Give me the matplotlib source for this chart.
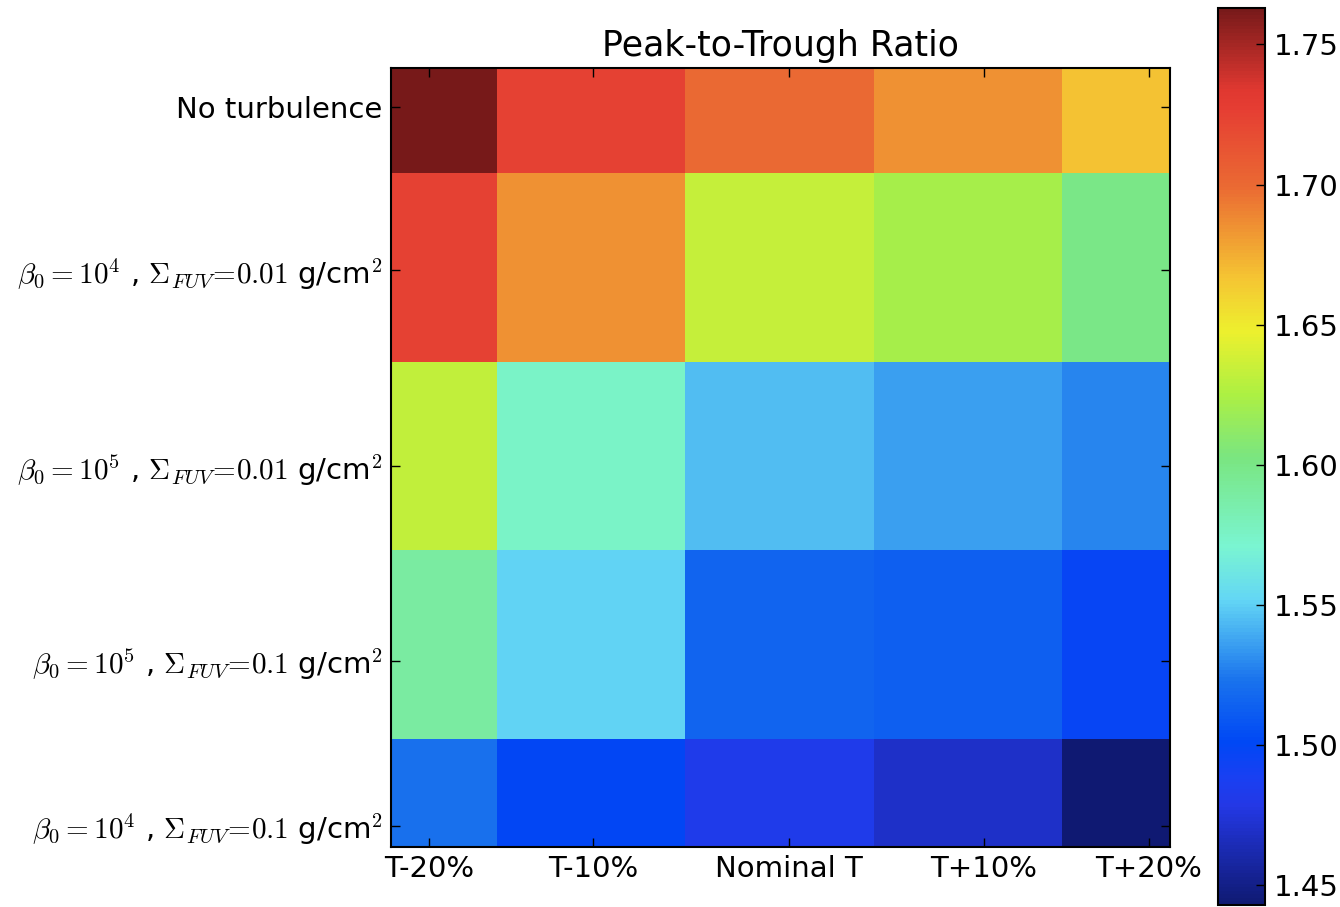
import numpy as np
import matplotlib
matplotlib.use("Agg")
import matplotlib.pyplot as plt
from matplotlib.colors import LinearSegmentedColormap

plt.rcParams['mathtext.fontset'] = 'cm'
plt.rcParams['font.family'] = 'DejaVu Sans'

# temperature variants (columns) and turbulence setups (rows)
temp_labels = ['T-20%', 'T-10%', 'Nominal T', 'T+10%', 'T+20%']
model_labels = ['No turbulence',
                r'$\beta_0 =10^4$ , $\Sigma_{FUV}\!=\!0.01$ g/cm$^2$',
                r'$\beta_0 =10^5$ , $\Sigma_{FUV}\!=\!0.01$ g/cm$^2$',
                r'$\beta_0 =10^5$ , $\Sigma_{FUV}\!=\!0.1$ g/cm$^2$',
                r'$\beta_0 =10^4$ , $\Sigma_{FUV}\!=\!0.1$ g/cm$^2$']

# peak-to-trough ratio for each model / temperature
no_turb = [1.763, 1.725, 1.700, 1.685, 1.667]
b4_s001 = [1.725, 1.685, 1.634, 1.622, 1.600]
b5_s001 = [1.632, 1.575, 1.545, 1.536, 1.529]
b5_s01 = [1.590, 1.551, 1.516, 1.514, 1.497]
b4_s01 = [1.522, 1.500, 1.482, 1.470, 1.443]

# tick locations used on both axes
tick_pos = [0.143, 1.011, 2.050, 3.084, 3.958]

ratio = np.array([no_turb, b4_s001, b5_s001, b5_s01, b4_s01])

# a slightly muted jet
soft_jet = LinearSegmentedColormap.from_list('soft_jet', [
    (0.00, (0.06, 0.10, 0.45)),
    (0.11, (0.14, 0.22, 0.90)),
    (0.14, (0.10, 0.25, 0.95)),
    (0.18, (0.00, 0.28, 0.96)),
    (0.25, (0.10, 0.45, 0.93)),
    (0.34, (0.39, 0.84, 0.96)),
    (0.40, (0.48, 0.96, 0.82)),
    (0.50, (0.48, 0.90, 0.50)),
    (0.57, (0.68, 0.94, 0.26)),
    (0.64, (0.93, 0.94, 0.18)),
    (0.70, (0.96, 0.77, 0.20)),
    (0.80, (0.92, 0.42, 0.20)),
    (0.89, (0.90, 0.24, 0.20)),
    (0.91, (0.88, 0.22, 0.19)),
    (1.00, (0.47, 0.10, 0.10)),
])

fig = plt.figure(figsize=(13.4, 9.07), dpi=100)
ax = fig.add_axes([391 / 1340, 60.3 / 907, 779 / 1340, 778.4 / 907])
im = ax.imshow(ratio, cmap=soft_jet, interpolation='nearest', aspect='auto')
ax.set_xlim(-0.06, 4.07)
ax.set_ylim(4.07, -0.06)

ax.set_xticks(tick_pos)
ax.set_xticklabels(temp_labels)
ax.set_yticks(tick_pos)
ax.set_yticklabels(model_labels)
ax.tick_params(direction='in', length=6.5, width=1, labelsize=21, pad=6,
               top=True, right=True)
for sp in ax.spines.values():
    sp.set_linewidth(1.5)
ax.set_title('Peak-to-Trough Ratio', fontsize=25, pad=9)

cax = fig.add_axes([1218 / 1340, 2 / 907, 47 / 1340, 897 / 907])
cb = fig.colorbar(im, cax=cax)
cb.set_ticks([1.45, 1.50, 1.55, 1.60, 1.65, 1.70, 1.75])
cb.ax.tick_params(direction='in', length=6.5, width=1, labelsize=21, pad=6)
cb.outline.set_linewidth(1.5)

fig.savefig('out.png', dpi=100)
